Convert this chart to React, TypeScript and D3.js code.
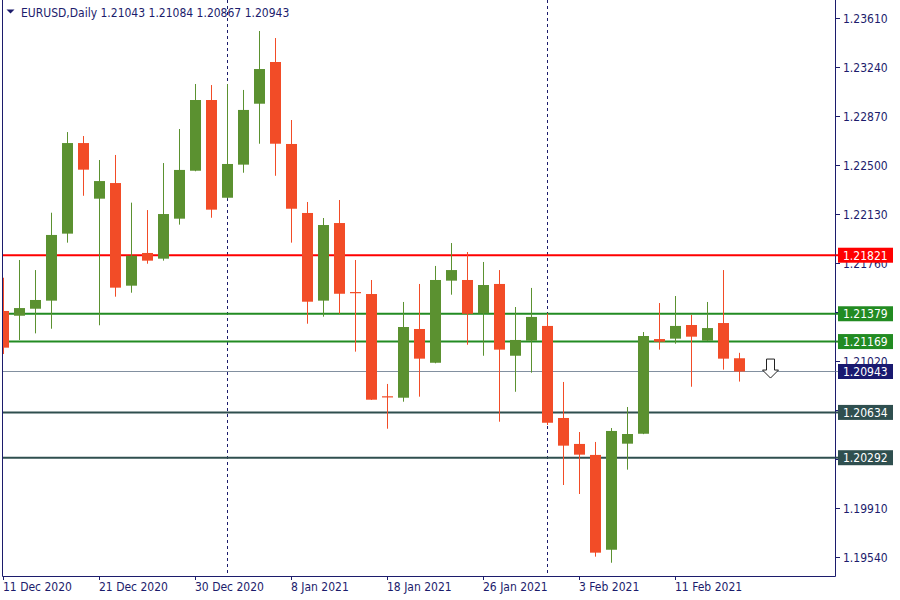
import React from "react";
import * as d3 from "d3";

const dates = [
  "2020-12-11","2020-12-14","2020-12-15","2020-12-16","2020-12-17","2020-12-18","2020-12-21","2020-12-22","2020-12-23","2020-12-24",
  "2020-12-28","2020-12-29","2020-12-30","2020-12-31","2021-01-04","2021-01-05","2021-01-06","2021-01-07","2021-01-08","2021-01-11",
  "2021-01-12","2021-01-13","2021-01-14","2021-01-15","2021-01-18","2021-01-19","2021-01-20","2021-01-21","2021-01-22","2021-01-25",
  "2021-01-26","2021-01-27","2021-01-28","2021-01-29","2021-02-01","2021-02-02","2021-02-03","2021-02-04","2021-02-05","2021-02-08",
  "2021-02-09","2021-02-10","2021-02-11","2021-02-12","2021-02-15","2021-02-16","2021-02-17"
];
const opens = [1.21400,1.21364,1.21417,1.21478,1.21984,1.22668,1.22248,1.22366,1.21591,1.21838,1.21795,1.22097,1.22459,1.22993,1.22255,1.22505,1.22965,1.23280,1.22661,1.22140,1.21478,1.22064,1.21543,1.21528,1.20756,1.20745,1.21264,1.21009,1.21629,1.21634,1.21382,1.21604,1.21062,1.21176,1.21287,1.20592,1.20396,1.20313,1.19597,1.20398,1.20473,1.21188,1.21191,1.21294,1.21176,1.21309,1.21043];
const highs = [1.21651,1.21785,1.21709,1.22142,1.22751,1.22721,1.22540,1.22578,1.22218,1.22162,1.22517,1.22774,1.23114,1.23106,1.23114,1.23069,1.23514,1.23461,1.22842,1.22223,1.22102,1.22238,1.21785,1.21634,1.20849,1.21468,1.21604,1.21740,1.21913,1.21845,1.21770,1.21709,1.21430,1.21574,1.21381,1.20864,1.20486,1.20411,1.20516,1.20675,1.21241,1.21460,1.21513,1.21370,1.21468,1.21709,1.21084];
const lows = [1.21075,1.21181,1.21231,1.21266,1.21916,1.22270,1.21292,1.21508,1.21538,1.21757,1.21780,1.22052,1.22455,1.22104,1.22250,1.22444,1.22663,1.22421,1.21916,1.21304,1.21357,1.21379,1.21093,1.20728,1.20511,1.20715,1.20753,1.21005,1.21523,1.21145,1.21062,1.20564,1.20790,1.20934,1.20539,1.20086,1.20018,1.19545,1.19499,1.20202,1.20470,1.21108,1.21153,1.20828,1.21174,1.20957,1.20867];
const closes = [1.21123,1.21422,1.21483,1.21974,1.22668,1.22467,1.22381,1.21576,1.21817,1.21780,1.22132,1.22465,1.22993,1.22165,1.22510,1.22918,1.23227,1.22663,1.22172,1.21470,1.22049,1.21530,1.21536,1.20730,1.20748,1.21279,1.21040,1.21634,1.21709,1.21379,1.21596,1.21108,1.21181,1.21355,1.20556,1.20383,1.20315,1.19575,1.20494,1.20471,1.21211,1.21168,1.21287,1.21206,1.21271,1.21040,1.20943];

const priceTicks = [1.23610, 1.23240, 1.22870, 1.22500, 1.22130, 1.21760, 1.21390, 1.21020, 1.20650, 1.20280, 1.19910, 1.19540];
const dateTickIndex = [0, 6, 12, 18, 24, 30, 36, 42];
const dateTickLabels = ["11 Dec 2020", "21 Dec 2020", "30 Dec 2020", "8 Jan 2021", "18 Jan 2021", "26 Jan 2021", "3 Feb 2021", "11 Feb 2021"];
const separatorIndex = [14, 34];

const levelPrices = [1.21821, 1.21379, 1.21169, 1.20634, 1.20292];
const levelKinds = ["resist", "support1", "support1", "support2", "support2"];
const currentPrice = 1.20943;
const arrowIndex = 48;
const arrowPrice = 1.21037;

const headerSymbol = "EURUSD,Daily";
const headerValues = ["1.21043", "1.21084", "1.20867", "1.20943"];

const W = 900, H = 600;
const plotLeft = 2.5, plotRight = 835.5, plotBottom = 576.5;
const FONT = "Tahoma, 'DejaVu Sans Condensed', 'Liberation Sans', sans-serif";
const TEXT = "#1c1c6c";
const BULL = "#5b9130";
const BEAR = "#f24c27";
const kindColor: Record<string, string> = {
  resist: "#ff0000",
  support1: "#228b22",
  support2: "#2f4f4f",
};

export default function App() {
  const x = d3.scaleLinear().domain([0, 1]).range([3.5, 19.5]);
  const y = d3.scaleLinear().domain([1.19540, 1.23610]).range([557.3, 18.3]);
  const bodyW = 11;

  const candles = dates.map((d, i) => {
    const o = opens[i], c = closes[i], h = highs[i], l = lows[i];
    const bull = c >= o;
    const top = y(Math.max(o, c));
    const bot = y(Math.min(o, c));
    return { i, bull, top, bot, yh: y(h), yl: y(l), cx: x(i) };
  });

  const fmt = d3.format(".5f");
  const boxPrices = [...levelPrices, currentPrice];
  const labelVisible = (p: number) => boxPrices.every((b) => Math.abs(y(b) - y(p)) > 7);

  return (
    <svg width={W} height={H} style={{ position: "absolute", left: 0, top: 0, background: "#fff" }} fontFamily={FONT}>
      <defs>
        <clipPath id="plot">
          <rect x={plotLeft + 0.5} y={0} width={plotRight - plotLeft - 0.5} height={plotBottom} />
        </clipPath>
      </defs>
      <rect x={0} y={0} width={W} height={H} fill="#fff" />
      <g clipPath="url(#plot)">
        {separatorIndex.map((si) => (
          <line key={si} x1={x(si)} x2={x(si)} y1={0} y2={plotBottom} stroke="#1c1c6c" strokeWidth={1} strokeDasharray="3,3" />
        ))}
        <line x1={plotLeft} x2={plotRight} y1={Math.round(y(currentPrice)) + 0.5} y2={Math.round(y(currentPrice)) + 0.5} stroke="#8290a0" strokeWidth={1} />
        {levelPrices.map((p, k) => (
          <line key={k} x1={plotLeft} x2={plotRight} y1={y(p)} y2={y(p)} stroke={kindColor[levelKinds[k]]} strokeWidth={2} />
        ))}
        {candles.map((c) => {
          const col = c.bull ? BULL : BEAR;
          return (
            <g key={c.i}>
              <rect x={c.cx - 0.5} y={c.yh} width={1} height={Math.max(1, c.yl - c.yh)} fill={col} />
              <rect x={c.cx - bodyW / 2} y={c.top} width={bodyW} height={Math.max(1.2, c.bot - c.top)} fill={col} />
            </g>
          );
        })}
        {(() => {
          const ax = x(arrowIndex) - 1;
          const ay = y(arrowPrice);
          const d = `M${ax - 4},${ay} L${ax + 4},${ay} L${ax + 4},${ay + 11} L${ax + 8},${ay + 11} L${ax},${ay + 19} L${ax - 8},${ay + 11} L${ax - 4},${ay + 11} Z`;
          return <path d={d} fill="#fff" stroke="#222" strokeWidth={1} />;
        })()}
      </g>
      {/* frame */}
      <line x1={plotLeft} x2={plotLeft} y1={0} y2={plotBottom} stroke="#1c1c6c" strokeWidth={1} />
      <line x1={plotRight} x2={plotRight} y1={0} y2={plotBottom} stroke="#1c1c6c" strokeWidth={1} />
      <line x1={plotLeft} x2={plotRight} y1={plotBottom} y2={plotBottom} stroke="#1c1c6c" strokeWidth={1} />

      {/* level lines into the axis */}
      {levelPrices.map((p, k) => (
        <line key={"a" + k} x1={plotRight} x2={839} y1={y(p)} y2={y(p)} stroke={kindColor[levelKinds[k]]} strokeWidth={2} />
      ))}

      {/* right axis */}
      {priceTicks.map((p) => (
        <g key={p}>
          <line x1={plotRight} x2={840} y1={Math.round(y(p)) + 0.5} y2={Math.round(y(p)) + 0.5} stroke="#1c1c6c" strokeWidth={1} />
          {labelVisible(p) && (
            <text x={843} y={y(p)} dy="0.36em" fontSize={12} fill={TEXT}>{fmt(p)}</text>
          )}
        </g>
      ))}
      {levelPrices.map((p, k) => (
        <g key={"b" + k}>
          <rect x={838} y={y(p) - 7.5} width={55} height={15} fill={kindColor[levelKinds[k]]} />
          <text x={843} y={y(p)} dy="0.36em" fontSize={12} fill="#fff">{fmt(p)}</text>
        </g>
      ))}
      <g>
        <line x1={plotRight} x2={839} y1={Math.round(y(currentPrice)) + 0.5} y2={Math.round(y(currentPrice)) + 0.5} stroke="#8290a0" strokeWidth={1} />
        <rect x={838} y={y(currentPrice) - 7.5} width={55} height={15} fill="#191970" />
        <text x={843} y={y(currentPrice)} dy="0.36em" fontSize={12} fill="#fff">{fmt(currentPrice)}</text>
      </g>

      {/* bottom axis */}
      {dateTickIndex.map((di, k) => (
        <g key={di}>
          <line x1={Math.floor(x(di)) + 0.5} x2={Math.floor(x(di)) + 0.5} y1={plotBottom} y2={580} stroke="#1c1c6c" strokeWidth={1} />
          <text x={x(di) - 0.5} y={591} fontSize={12} fill={TEXT}>{dateTickLabels[k]}</text>
        </g>
      ))}

      {/* header */}
      <path d="M6.5,9.5 L14.5,9.5 L10.5,13.5 Z" fill={TEXT} />
      <text x={21} y={16.5} fontSize={12} fill={TEXT}>
        {headerSymbol + "  " + headerValues.join(" ")}
      </text>
    </svg>
  );
}
